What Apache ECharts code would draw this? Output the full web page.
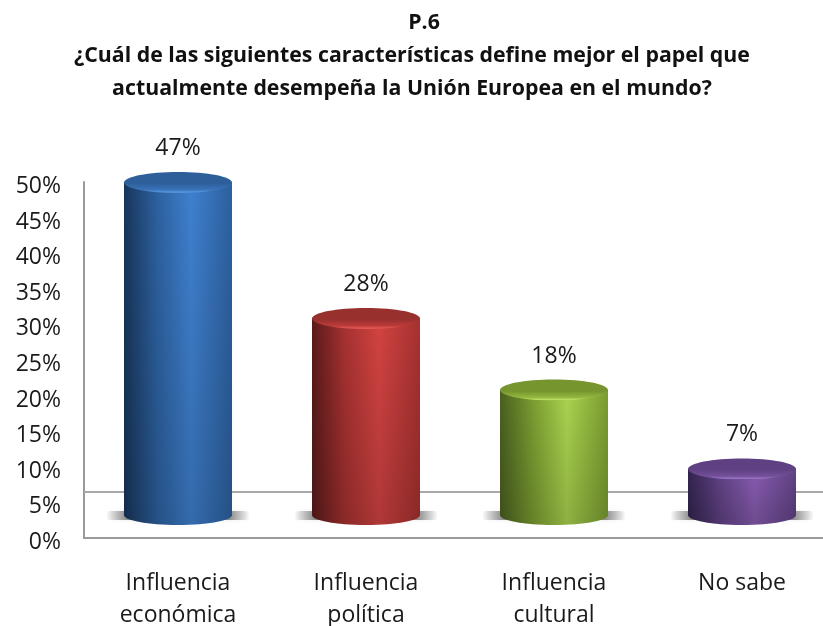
<!DOCTYPE html>
<html>
<head>
<meta charset="utf-8">
<style>html,body{margin:0;padding:0;background:#fff}#c{width:823px;height:626px}</style>
<script src="https://cdn.jsdelivr.net/npm/echarts@6/dist/echarts.min.js"></script>
</head>
<body>
<div id="c"></div>
<script>
var titleCode = 'P.6';
var titleQuestion = '¿Cuál de las siguientes características define mejor el papel que\nactualmente desempeña la Unión Europea en el mundo?';
var categories = ['Influencia\neconómica', 'Influencia\npolítica', 'Influencia\ncultural', 'No sabe'];
var values = [47, 28, 18, 7];
var backWallLevel = 6.5;
var palette = [
  {edge:'#18355a', mid:'#3f80cf', right:'#2c609e', top:'#2f5f9b', rim:'#3a74bb', glow:'#5b9be0'},
  {edge:'#5a1a1a', mid:'#d24341', right:'#a53130', top:'#98302e', rim:'#bd3b39', glow:'#ea5c58'},
  {edge:'#4a5f20', mid:'#abd44f', right:'#7a9c30', top:'#76952f', rim:'#93b83f', glow:'#c2e668'},
  {edge:'#33244f', mid:'#885cb1', right:'#614285', top:'#5f4183', rim:'#75509b', glow:'#9b75c6'}
];
var font = '"Open Sans", sans-serif';

function hGrad(c){
  return new echarts.graphic.LinearGradient(0,0,1,0,[
    {offset:0,color:c.edge},{offset:0.3,color:c.right},
    {offset:0.62,color:c.mid},{offset:1,color:c.right}]);
}
function renderBar(params, api){
  var i = api.value(0), v = api.value(1), c = palette[i];
  var t = api.coord([i, v]), base = api.coord([i, 0]);
  var cx = t[0], rx = 54, ry = 10, topY = t[1], baseY = base[1] - 4;
  var g = hGrad(c);
  return {type:'group', children:[
    {type:'rect', shape:{x:cx-72, y:baseY-4, width:144, height:9, r:4},
      style:{fill:new echarts.graphic.LinearGradient(0,0,1,0,[
        {offset:0,color:'rgba(120,120,120,0)'},{offset:0.14,color:'rgba(120,120,120,0.8)'},
        {offset:0.86,color:'rgba(120,120,120,0.8)'},{offset:1,color:'rgba(120,120,120,0)'}]),
        shadowBlur:4, shadowColor:'rgba(170,170,170,0.35)'}},
    {type:'ellipse', shape:{cx:cx, cy:baseY, rx:rx, ry:ry}, style:{fill:g}},
    {type:'ellipse', shape:{cx:cx, cy:baseY, rx:rx, ry:ry}, style:{fill:'rgba(0,0,0,0.16)'}},
    {type:'rect', shape:{x:cx-rx, y:topY, width:rx*2, height:baseY-topY}, style:{fill:g}},
    {type:'rect', shape:{x:cx-rx, y:topY, width:rx*2, height:baseY-topY},
      style:{fill:new echarts.graphic.LinearGradient(0,0,0,1,[
        {offset:0,color:'rgba(0,0,0,0)'},{offset:1,color:'rgba(0,0,0,0.16)'}])}},
    {type:'ellipse', shape:{cx:cx, cy:topY, rx:rx, ry:ry+0.5},
      style:{fill:new echarts.graphic.LinearGradient(0,0,0,1,[
        {offset:0,color:c.top},{offset:0.55,color:c.top},{offset:0.85,color:c.rim},{offset:0.97,color:c.glow},{offset:1,color:c.rim}])}},
    {type:'text', style:{text:v+'%', x:cx, y:topY-34, align:'center', verticalAlign:'middle',
      fill:'#1a1a1a', font:'23px '+font}}
  ]};
}

var titleStyle = {fontFamily:font, fontWeight:'bold', fontSize:21.3, lineHeight:33, color:'#111'};
var chart = echarts.init(document.getElementById('c'), null, {renderer:'canvas'});
chart.setOption({
  animation:false,
  backgroundColor:'#fff',
  title:[
    {text:titleCode, left:424, top:6, padding:0, textAlign:'center', textStyle:titleStyle},
    {text:titleQuestion, left:412, top:39, padding:0, textAlign:'center', textStyle:titleStyle}
  ],
  grid:[
    {left:84, top:182, width:752, height:356, outerBoundsMode:'none'},
    {left:84, top:161, width:752, height:358, outerBoundsMode:'none'}
  ],
  xAxis:[
    {type:'category', gridIndex:0, data:categories,
      axisLine:{show:true, lineStyle:{color:'#9a9a9a', width:2}}, axisTick:{show:false},
      axisLabel:{interval:0, margin:29, fontFamily:font, fontSize:23, lineHeight:32, color:'#1a1a1a'}},
    {type:'category', gridIndex:1, data:categories, show:false}
  ],
  yAxis:[
    {type:'value', gridIndex:0, min:0, max:50, interval:5,
      axisLine:{show:true, lineStyle:{color:'#9a9a9a', width:2}}, axisTick:{show:false},
      splitLine:{show:false},
      axisLabel:{margin:23, fontFamily:font, fontSize:23, color:'#1a1a1a',
        formatter:function(v){return '{a|'+v+'%}';},
        rich:{a:{fontFamily:font, fontSize:23, color:'#1a1a1a', padding:[9,0,0,0]}}}},
    {type:'value', gridIndex:1, min:0, max:50, show:false, splitLine:{show:false}}
  ],
  series:[
    {type:'line', xAxisIndex:0, yAxisIndex:0, data:[], silent:true, z:1,
      markLine:{silent:true, symbol:'none', label:{show:false},
        lineStyle:{color:'#a8a8a8', width:2, type:'solid'},
        data:[{yAxis:backWallLevel}]}},
    {type:'custom', xAxisIndex:1, yAxisIndex:1, clip:false, z:5,
      encode:{x:0, y:1}, renderItem:renderBar,
      data:values.map(function(v,i){return [i,v];})}
  ]
});
</script>
</body>
</html>
